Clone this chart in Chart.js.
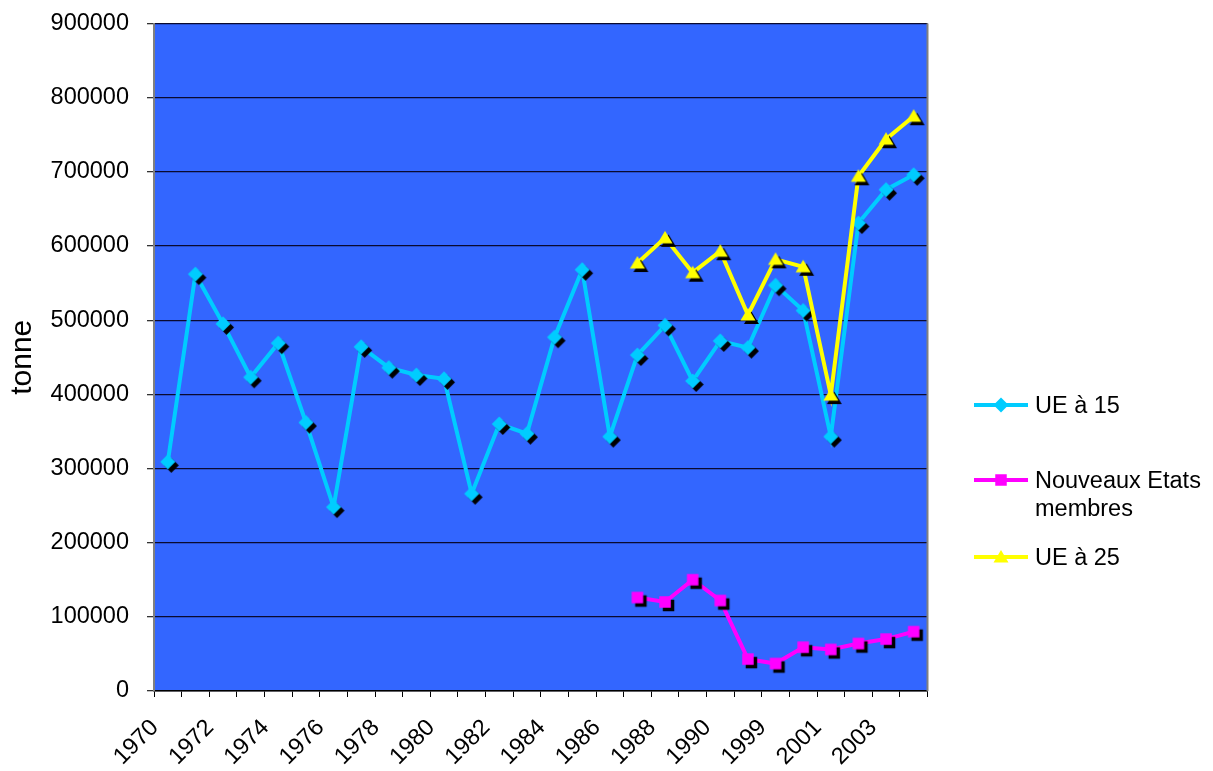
<!DOCTYPE html>
<html>
<head>
<meta charset="utf-8">
<script src="https://cdn.jsdelivr.net/npm/chart.js@4/dist/chart.umd.min.js"></script>
<style>
  html, body { margin: 0; padding: 0; background: #ffffff; }
  canvas { display: block; }
</style>
</head>
<body>
<canvas id="chart" width="1213" height="771"></canvas>
<script>
// Years on the category axis (1991-1997 are not part of the series)
const years = [
  '1970', '1971', '1972', '1973', '1974', '1975', '1976', '1977', '1978', '1979',
  '1980', '1981', '1982', '1983', '1984', '1985', '1986', '1987', '1988', '1989',
  '1990', '1998', '1999', '2000', '2001', '2002', '2003', '2004'
];

// Years that carry a visible tick label
const labelledYears = [
  '1970', '1972', '1974', '1976', '1978', '1980', '1982', '1984', '1986', '1988',
  '1990', '1999', '2001', '2003'
];

// Production in tonnes
const ue15 = [
  309000, 562000, 495000, 423000, 469000, 362000, 248000, 464000, 436000, 426000,
  421000, 266000, 360000, 347000, 477000, 568000, 343000, 453000, 493000, 418000,
  472000, 463000, 547000, 513000, 343000, 631000, 676000, 696000
];

const nouveauxEtats = [
  null, null, null, null, null, null, null, null, null, null,
  null, null, null, null, null, null, null, 126000, 120000, 150000,
  122000, 43000, 37000, 59000, 56000, 64000, 70000, 80000
];

const ue25 = [
  null, null, null, null, null, null, null, null, null, null,
  null, null, null, null, null, null, null, 577000, 611000, 564000,
  593000, 507000, 582000, 572000, 399000, 694000, 744000, 775000
];

// Value axis ticks
const yTickValues = [0, 100000, 200000, 300000, 400000, 500000, 600000, 700000, 800000, 900000];

const seriesNames = ['UE à 15', ['Nouveaux Etats', 'membres'], 'UE à 25'];

const FONT = "'Liberation Sans', Arial, sans-serif";
const PLOT_BG = '#3366ff';
const C_UE15 = '#00ccff';
const C_NEW = '#ff00ff';
const C_UE25 = '#ffff00';

// Marker sprites, optionally with a hard black drop shadow
function makeMarker(shape, color, withShadow) {
  const sh = withShadow ? 3.5 : 0;
  const r = 7;
  const dim = 2 * (r + 4 + 1);
  const cv = document.createElement('canvas');
  cv.width = dim; cv.height = dim;
  const g = cv.getContext('2d');
  const c = dim / 2;
  function path(cx, cy) {
    g.beginPath();
    if (shape === 'diamond') {
      g.moveTo(cx, cy - 7.5); g.lineTo(cx + 7.5, cy); g.lineTo(cx, cy + 7.5); g.lineTo(cx - 7.5, cy);
    } else if (shape === 'square') {
      g.rect(cx - 5.75, cy - 5.75, 11.5, 11.5);
    } else {
      g.moveTo(cx, cy - 7); g.lineTo(cx + 7.5, cy + 5.5); g.lineTo(cx - 7.5, cy + 5.5);
    }
    g.closePath();
  }
  if (withShadow) { path(c + sh, c + sh); g.fillStyle = '#000000'; g.fill(); }
  path(c, c); g.fillStyle = color; g.fill();
  return cv;
}

const markers = [
  makeMarker('diamond', C_UE15, true),
  makeMarker('square', C_NEW, true),
  makeMarker('triangle', C_UE25, true)
];
const legendMarkers = [
  makeMarker('diamond', C_UE15, false),
  makeMarker('square', C_NEW, false),
  makeMarker('triangle', C_UE25, false)
];
const lineColors = [C_UE15, C_NEW, C_UE25];

// Plot area fill and frame
const plotArea = {
  id: 'plotArea',
  beforeDraw(chart) {
    const { ctx, chartArea: a } = chart;
    ctx.save();
    ctx.fillStyle = PLOT_BG;
    ctx.fillRect(a.left, a.top, a.right - a.left, a.bottom - a.top);
    ctx.restore();
  },
  afterDatasetsDraw(chart) {
    const { ctx, chartArea: a } = chart;
    ctx.save();
    ctx.strokeStyle = '#808080';
    ctx.lineWidth = 2;
    ctx.beginPath();
    ctx.moveTo(a.right, a.top);
    ctx.lineTo(a.right, a.bottom);
    ctx.stroke();
    ctx.restore();
  }
};

// Legend on the right, drawn item by item
const sideLegend = {
  id: 'sideLegend',
  afterDraw(chart) {
    const { ctx } = chart;
    const rows = [405, 480, 557];
    ctx.save();
    ctx.font = '23.5px ' + FONT;
    ctx.fillStyle = '#000000';
    ctx.textBaseline = 'middle';
    ctx.textAlign = 'left';
    chart.data.datasets.forEach((ds, i) => {
      const y = rows[i];
      ctx.strokeStyle = lineColors[i];
      ctx.lineWidth = 4;
      ctx.beginPath();
      ctx.moveTo(974, y);
      ctx.lineTo(1028, y);
      ctx.stroke();
      const m = legendMarkers[i];
      ctx.drawImage(m, 1001 - m.width / 2, y - m.height / 2);
      const name = seriesNames[i];
      const lines = Array.isArray(name) ? name : [name];
      lines.forEach((t, k) => ctx.fillText(t, 1035, y + 2 + k * 28));
    });
    ctx.restore();
  }
};

new Chart(document.getElementById('chart'), {
  type: 'line',
  data: {
    labels: years,
    datasets: [
      {
        label: 'UE à 15', data: ue15, borderColor: C_UE15, backgroundColor: C_UE15,
        borderWidth: 4, pointStyle: markers[0], pointRadius: 7, order: 2, tension: 0
      },
      {
        label: 'Nouveaux Etats membres', data: nouveauxEtats, borderColor: C_NEW, backgroundColor: C_NEW,
        borderWidth: 4, pointStyle: markers[1], pointRadius: 7, order: 1, tension: 0
      },
      {
        label: 'UE à 25', data: ue25, borderColor: C_UE25, backgroundColor: C_UE25,
        borderWidth: 4, pointStyle: markers[2], pointRadius: 7, order: 0, tension: 0
      }
    ]
  },
  options: {
    responsive: false,
    animation: false,
    devicePixelRatio: 1,
    layout: { padding: { top: 23.5, right: 285.5, bottom: 0, left: 0 } },
    plugins: {
      legend: { display: false },
      tooltip: { enabled: false }
    },
    scales: {
      x: {
        type: 'category',
        offset: true,
        afterFit(scale) { scale.height = 80; scale.paddingLeft = 0; scale.paddingRight = 0; },
        grid: {
          offset: true,
          drawOnChartArea: false,
          drawTicks: true,
          tickLength: 6,
          tickColor: '#000000',
          tickWidth: 1
        },
        border: { display: true, color: '#000000', width: 1.5 },
        ticks: {
          autoSkip: false,
          maxRotation: 45,
          minRotation: 45,
          padding: 17,
          labelOffset: -13,
          color: '#000000',
          font: { family: FONT, size: 23.5 },
          callback(value, index) {
            const y = years[index];
            return labelledYears.includes(y) ? y : '';
          }
        }
      },
      y: {
        min: 0,
        max: 900000,
        afterFit(scale) { scale.width = 154; scale.paddingTop = 0; scale.paddingBottom = 0; },
        afterBuildTicks(scale) { scale.ticks = yTickValues.map(v => ({ value: v })); },
        title: {
          display: true,
          text: 'tonne',
          color: '#000000',
          font: { family: FONT, size: 30 },
          padding: { top: 5, bottom: 0 }
        },
        grid: {
          color: '#0a0a30',
          lineWidth: 1.3,
          drawTicks: true,
          tickLength: 7,
          tickColor: '#333333'
        },
        border: { display: true, color: '#808080', width: 2 },
        ticks: {
          padding: 18,
          color: '#000000',
          font: { family: FONT, size: 23.5 },
          callback(value) { return String(value); }
        }
      }
    }
  },
  plugins: [plotArea, sideLegend]
});
</script>
</body>
</html>
